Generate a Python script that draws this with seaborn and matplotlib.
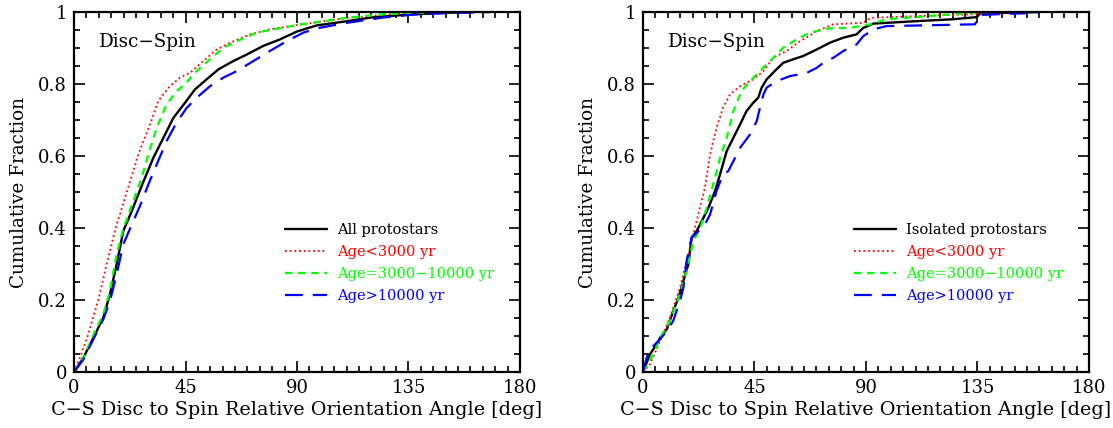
import numpy as np
import pandas as pd
import matplotlib
matplotlib.use("Agg")
import matplotlib.pyplot as plt
from matplotlib.ticker import MultipleLocator, FuncFormatter
import seaborn as sns

# values (angle in deg, cumulative fraction)
# --- left panel: all protostars ---
all_ang = [0, 3.8, 7.8, 11.8, 14.5, 17.2, 19.9, 23.3, 27.3, 32, 36.1, 40.1, 44.8, 48.8, 53.5,
           58.3, 64.3, 69.7, 76.4, 83.1, 90, 98, 110.6, 120, 135, 150, 160]
all_frac = [0, 0.04, 0.095, 0.151, 0.216, 0.299, 0.392, 0.447, 0.517, 0.595, 0.651, 0.706, 0.748,
            0.785, 0.813, 0.841, 0.864, 0.882, 0.906, 0.924, 0.946, 0.963, 0.975, 0.985, 0.993, 0.998, 1.0]

young_ang = [0, 2.4, 5.5, 9.8, 13.2, 16.8, 21.3, 26, 31.3, 34, 38.7, 42.8, 46.8, 52.2, 57.6,
             63, 71, 79, 90, 110.6, 134.8, 150]
young_frac = [0, 0.04, 0.1, 0.2, 0.3, 0.4, 0.5, 0.605, 0.7, 0.753, 0.794, 0.818, 0.831, 0.864,
              0.896, 0.915, 0.938, 0.952, 0.964, 0.984, 0.998, 1.0]

mid_ang = [0, 3.8, 8.5, 11.8, 14.5, 17.2, 19.9, 23.9, 27.3, 30, 33.4, 37.4, 41.4, 44.8, 49.5,
           54.9, 60.3, 65.7, 73.7, 90, 110, 125, 146]
mid_frac = [0, 0.04, 0.114, 0.16, 0.225, 0.327, 0.398, 0.475, 0.54, 0.605, 0.679, 0.744, 0.78, 0.8,
            0.836, 0.869, 0.901, 0.919, 0.943, 0.964, 0.984, 0.994, 1.0]

old_ang = [0, 3.8, 7.8, 11.8, 14.5, 17.2, 19.9, 22.6, 26.6, 30, 33.4, 37.4, 41.4, 45.5, 49.5,
           54.9, 60.3, 65.7, 72.4, 79.1, 85.8, 92.6, 99, 110, 125, 140, 168]
old_frac = [0, 0.035, 0.091, 0.146, 0.197, 0.271, 0.355, 0.398, 0.461, 0.521, 0.577, 0.642, 0.693,
            0.734, 0.762, 0.794, 0.818, 0.836, 0.864, 0.892, 0.919, 0.943, 0.956, 0.97, 0.985, 0.995, 1.0]

# --- right panel: isolated protostars ---
iso_ang = [0, 2.8, 5.5, 6.9, 9.6, 12.2, 14.3, 16.3, 18.3, 19.6, 21.7, 23.7, 26.4, 29.1, 31.1,
           33.8, 36.5, 39.2, 41.8, 44.5, 46.5, 47.9, 49.9, 53.9, 56.6, 60.7, 64.7, 70.1, 75.5,
           80.9, 86.2, 88.9, 93, 111, 125, 134.7, 136, 146.7, 160]
iso_frac = [0, 0.049, 0.077, 0.095, 0.119, 0.169, 0.206, 0.253, 0.299, 0.373, 0.392, 0.419, 0.456,
            0.503, 0.549, 0.614, 0.651, 0.688, 0.725, 0.748, 0.762, 0.79, 0.813, 0.841, 0.859,
            0.869, 0.878, 0.896, 0.915, 0.929, 0.938, 0.956, 0.968, 0.975, 0.98, 0.986, 0.995, 0.998, 1.0]

iso_young_ang = [0, 2.8, 6.9, 10.9, 14.9, 18.3, 20.3, 22.3, 25, 27.1, 29.7, 32.3, 35.1, 39.2,
                 44.5, 48.6, 52.6, 58, 63.4, 70.1, 76.8, 88.9, 92, 111, 138, 150]
iso_young_frac = [0, 0.021, 0.086, 0.151, 0.234, 0.327, 0.382, 0.438, 0.512, 0.605, 0.679, 0.734,
                  0.771, 0.794, 0.813, 0.836, 0.873, 0.892, 0.919, 0.947, 0.966, 0.97, 0.984,
                  0.989, 0.995, 1.0]

iso_mid_ang = [0, 4.2, 6.9, 10.9, 14.9, 17.6, 20.3, 23, 25.7, 29.1, 31.1, 33.8, 36.5, 39.8, 43.2,
               47.2, 51.3, 56.6, 62, 67.4, 75.5, 83.5, 91.6, 98.3, 125, 131.7, 140]
iso_mid_frac = [0, 0.049, 0.095, 0.142, 0.216, 0.281, 0.364, 0.398, 0.456, 0.54, 0.595, 0.651,
                0.725, 0.781, 0.808, 0.836, 0.864, 0.901, 0.924, 0.943, 0.955, 0.956, 0.966,
                0.98, 0.994, 0.998, 1.0]

iso_old_ang = [0, 1.5, 2.8, 5.5, 6.9, 9.6, 12.2, 14.9, 16.3, 17.6, 19.6, 21.7, 25, 27.1, 29.7,
               32.3, 34.4, 36.5, 39.2, 43.2, 45.9, 47.2, 48.6, 49.9, 53.9, 59.3, 66.1, 70.1,
               72.8, 76.8, 80.9, 86.2, 88.9, 93, 98.3, 134, 136, 146.7, 160]
iso_old_frac = [0, 0.04, 0.063, 0.081, 0.091, 0.114, 0.142, 0.197, 0.234, 0.308, 0.373, 0.387,
                0.41, 0.438, 0.503, 0.549, 0.558, 0.586, 0.623, 0.66, 0.697, 0.734, 0.771, 0.79,
                0.808, 0.822, 0.831, 0.845, 0.859, 0.873, 0.892, 0.91, 0.933, 0.952, 0.961,
                0.966, 0.992, 0.995, 0.998]

legend_left = ["All protostars", "Age<3000 yr", "Age=3000\u221210000 yr", "Age>10000 yr"]
legend_right = ["Isolated protostars", "Age<3000 yr", "Age=3000\u221210000 yr", "Age>10000 yr"]

sns.set_style("ticks", {"axes.edgecolor": "black", "xtick.color": "black", "ytick.color": "black",
                        "text.color": "black", "axes.labelcolor": "black"})
plt.rcParams['font.family'] = ['DejaVu Serif', 'DejaVu Sans']

colors = ["black", "#ff0000", "#00ff00", "#0000ff"]
dashes = [None, (1, 1.6), (3.3, 2.6), (8, 4.5)]
widths = [1.7, 1.3, 1.6, 1.6]

fig = plt.figure(figsize=(11.13, 4.28), dpi=100)
ax1 = fig.add_axes([0.0665, 0.1308, 0.4007, 0.841])
ax2 = fig.add_axes([0.5777, 0.1308, 0.4007, 0.841])

panels = [
    (ax1, [(all_ang, all_frac), (young_ang, young_frac), (mid_ang, mid_frac), (old_ang, old_frac)], legend_left),
    (ax2, [(iso_ang, iso_frac), (iso_young_ang, iso_young_frac), (iso_mid_ang, iso_mid_frac),
           (iso_old_ang, iso_old_frac)], legend_right),
]

for ax, series, labels in panels:
    for (xs, ys), lab, c, d, w in zip(series, labels, colors, dashes, widths):
        df = pd.DataFrame({"angle": xs, "frac": ys})
        sns.lineplot(data=df, x="angle", y="frac", ax=ax, color=c, lw=w,
                     estimator=None, sort=False, label=lab)
        if d is not None:
            ax.lines[-1].set_dashes(d)
    ax.set_xlim(0, 180)
    ax.set_ylim(0, 1)
    ax.xaxis.set_major_locator(MultipleLocator(45))
    ax.xaxis.set_minor_locator(MultipleLocator(5))
    ax.yaxis.set_major_locator(MultipleLocator(0.2))
    ax.yaxis.set_minor_locator(MultipleLocator(0.05))
    ax.yaxis.set_major_formatter(FuncFormatter(lambda v, p: f"{v:g}"))
    ax.tick_params(which="both", direction="in", top=True, right=True, width=1.2, labelsize=13, pad=5)
    ax.tick_params(which="major", length=8)
    ax.tick_params(which="minor", length=4.5)
    for sp in ax.spines.values():
        sp.set_linewidth(1.6)
    ax.set_xlabel("C\u2212S Disc to Spin Relative Orientation Angle [deg]", fontsize=13.8, labelpad=3)
    ax.set_ylabel("Cumulative Fraction", fontsize=13.2, labelpad=7)
    ax.text(0.056, 0.917, "Disc\u2212Spin", transform=ax.transAxes, fontsize=13.2, va="center")
    ax.legend(loc="upper left", bbox_to_anchor=(0.46, 0.43), frameon=False,
              handlelength=2.9, handletextpad=0.7, labelspacing=0.55, borderaxespad=0,
              labelcolor="linecolor", prop={"size": 10.5})

fig.savefig("out.png", dpi=100)
